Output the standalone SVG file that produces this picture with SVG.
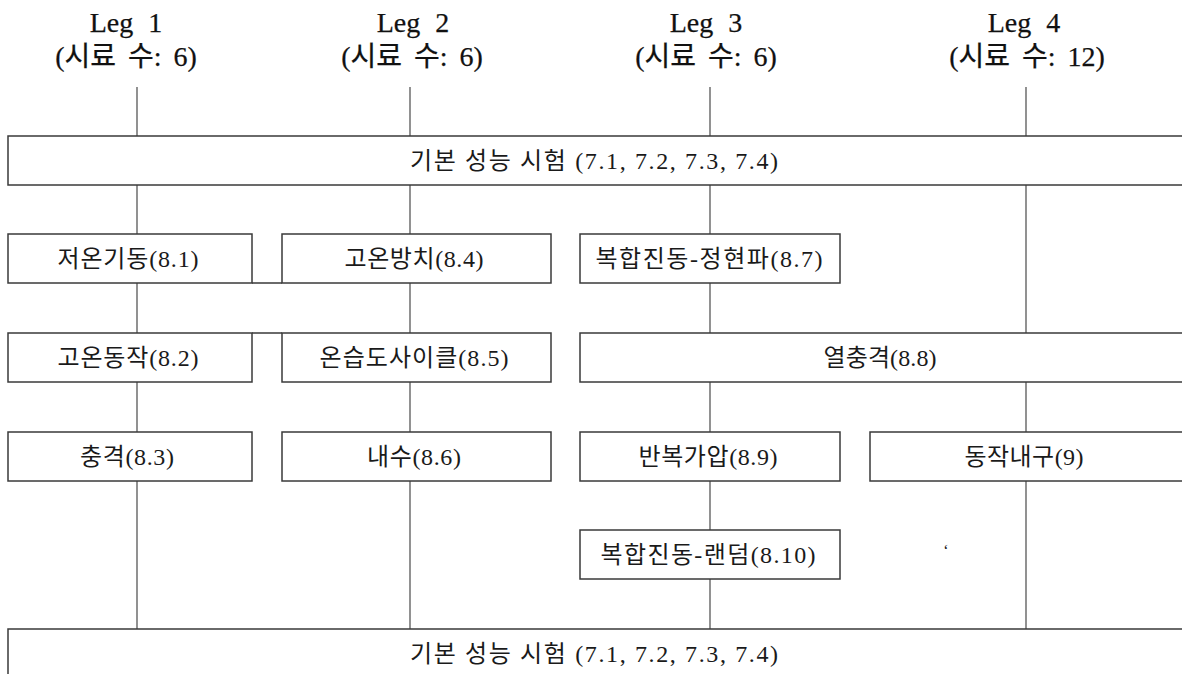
<svg xmlns="http://www.w3.org/2000/svg" width="1182" height="674" viewBox="0 0 1182 674">
<style>
.box{fill:#fff;stroke:#3a3a3a;stroke-width:1.5}
.ln{stroke:#4a4a4a;stroke-width:1.2;fill:none}
.lnh{stroke:#3a3a3a;stroke-width:1.5;fill:none}
.t{font-family:"Liberation Serif","Noto Sans CJK KR",serif;font-size:24px;fill:#1a1a1a;text-anchor:middle}
.h{font-family:"Liberation Serif","Noto Sans CJK KR",serif;font-size:28px;fill:#111;stroke:#111;stroke-width:0.25;text-anchor:middle}
.w{word-spacing:8px}
.w2{word-spacing:5px}
</style>
<rect width="1182" height="674" fill="#fff"/>
<g id="headers">
<g id="leg1"><text class="h w" x="126" y="32">Leg 1</text><text class="h w2" x="126" y="66">(시료 수: 6)</text></g>
<g id="leg2"><text class="h w" x="413" y="32">Leg 2</text><text class="h w2" x="412" y="66">(시료 수: 6)</text></g>
<g id="leg3"><text class="h w" x="706" y="32">Leg 3</text><text class="h w2" x="706" y="66">(시료 수: 6)</text></g>
<g id="leg4"><text class="h w" x="1024" y="32">Leg 4</text><text class="h w2" x="1027" y="66">(시료 수: 12)</text></g>
</g>
<g id="connectors">
<path class="ln" d="M137 87V136M137 185V234M137 283V333M137 382V432M137 481V629"/>
<path class="ln" d="M410 87V136M410 185V234M410 283V333M410 382V432M410 481V629"/>
<path class="ln" d="M710 87V136M710 185V234M710 283V333M710 382V432M710 481V530M710 579V629"/>
<path class="ln" d="M1026 87V136M1026 185V333M1026 382V432M1026 481V629"/>
<path class="lnh" d="M252 283H282M252 333H282"/>
</g>
<g id="top-basic"><rect class="box" x="8" y="136" width="1190" height="49"/><text class="t" x="594" y="169" textLength="368" lengthAdjust="spacing">기본 성능 시험 (7.1, 7.2, 7.3, 7.4)</text></g>
<g id="n81"><rect class="box" x="8" y="234" width="244" height="49"/><text class="t" x="128" y="267" textLength="141" lengthAdjust="spacing">저온기동(8.1)</text></g>
<g id="n84"><rect class="box" x="282" y="234" width="269" height="49"/><text class="t" x="414" y="267" textLength="139" lengthAdjust="spacing">고온방치(8.4)</text></g>
<g id="n87"><rect class="box" x="580" y="234" width="260" height="49"/><text class="t" x="709" y="267" textLength="227" lengthAdjust="spacing">복합진동-정현파(8.7)</text></g>
<g id="n82"><rect class="box" x="8" y="333" width="244" height="49"/><text class="t" x="128" y="366" textLength="141" lengthAdjust="spacing">고온동작(8.2)</text></g>
<g id="n85"><rect class="box" x="282" y="333" width="269" height="49"/><text class="t" x="414" y="366" textLength="189" lengthAdjust="spacing">온습도사이클(8.5)</text></g>
<g id="n88"><rect class="box" x="580" y="333" width="620" height="49"/><text class="t" x="880" y="366" textLength="113" lengthAdjust="spacing">열충격(8.8)</text></g>
<g id="n83"><rect class="box" x="8" y="432" width="244" height="49"/><text class="t" x="127" y="465" textLength="94" lengthAdjust="spacing">충격(8.3)</text></g>
<g id="n86"><rect class="box" x="282" y="432" width="269" height="49"/><text class="t" x="414" y="465" textLength="94" lengthAdjust="spacing">내수(8.6)</text></g>
<g id="n89"><rect class="box" x="580" y="432" width="260" height="49"/><text class="t" x="708" y="465" textLength="139" lengthAdjust="spacing">반복가압(8.9)</text></g>
<g id="n9"><rect class="box" x="870" y="432" width="330" height="49"/><text class="t" x="1024" y="465" textLength="119" lengthAdjust="spacing">동작내구(9)</text></g>
<g id="n810"><rect class="box" x="580" y="530" width="260" height="49"/><text class="t" x="708" y="563" textLength="215" lengthAdjust="spacing">복합진동-랜덤(8.10)</text></g>
<g id="bottom-basic"><rect class="box" x="8" y="629" width="1190" height="60"/><text class="t" x="594" y="662" textLength="368" lengthAdjust="spacing">기본 성능 시험 (7.1, 7.2, 7.3, 7.4)</text></g>
<text class="t" x="946" y="556" style="font-size:16px">‘</text>
</svg>
